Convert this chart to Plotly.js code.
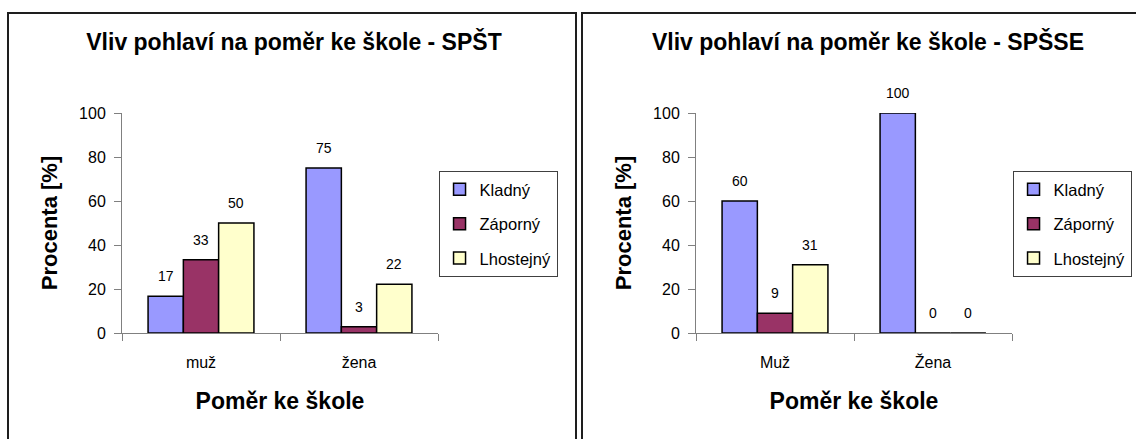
<!DOCTYPE html>
<html>
<head>
<meta charset="utf-8">
<script src="https://cdn.plot.ly/plotly-3.0.1.min.js"></script>
<style>
  html, body { margin: 0; padding: 0; width: 1136px; height: 439px; overflow: hidden; background: #fff; }
  .chart { position: absolute; top: 13px; width: 568px; height: 430px; }
  .frame { position: absolute; top: 12px; width: 570px; height: 450px; box-sizing: border-box; border: 2px solid #1e1e1e; pointer-events: none; }
</style>
</head>
<body>
<div id="c1" class="chart" style="left:8px"></div>
<div id="c2" class="chart" style="left:582px"></div>
<div class="frame" style="left:7px"></div>
<div class="frame" style="left:581px"></div>
<script>
// ---- data ----
const seriesNames = ['Kladný', 'Záporný', 'Lhostejný'];
const seriesColors = ['#9999FF', '#993366', '#FFFFCC'];

const titleSPST = 'Vliv pohlaví na poměr ke škole - SPŠT';
const categoriesSPST = ['muž', 'žena'];
const kladnySPST = [16.7, 75];
const zapornySPST = [33.3, 2.8];
const lhostejnySPST = [50, 22.2];

const titleSPSSE = 'Vliv pohlaví na poměr ke škole - SPŠSE';
const categoriesSPSSE = ['Muž', 'Žena'];
const kladnySPSSE = [60, 100];
const zapornySPSSE = [9, 0];
const lhostejnySPSSE = [31, 0];

const yTicks = [0, 20, 40, 60, 80, 100];
const xTitle = 'Poměr ke škole';
const yTitle = 'Procenta [%]';

// ---- drawing ----
const FONT = 'Liberation Sans, Arial, sans-serif';
const BARGAP = 0.33;

function draw(divId, title, cats, seriesVals) {
  const traces = seriesVals.map((vals, j) => ({
    type: 'bar',
    name: seriesNames[j],
    x: cats,
    y: vals,
    legendgroup: 'g' + j,
    marker: { color: seriesColors[j], line: { color: '#000', width: 1.5 } },
    hoverinfo: 'x+y+name'
  }));

  const nS = seriesVals.length;
  const w = (1 - BARGAP) / nS;
  const annotations = [];
  seriesVals.forEach((vals, j) => {
    vals.forEach((v, i) => {
      annotations.push({
        x: i + (j - (nS - 1) / 2) * w,
        y: v,
        xref: 'x', yref: 'y',
        text: String(Math.round(v)),
        showarrow: false,
        xanchor: 'center', yanchor: 'middle',
        yshift: 20,
        font: { family: FONT, size: 14, color: '#000' }
      });
    });
  });

  const layout = {
    width: 568, height: 430,
    margin: { l: 114, r: 138, t: 100, b: 110, autoexpand: false },
    paper_bgcolor: '#fff', plot_bgcolor: '#fff',
    font: { family: FONT, color: '#000' },
    title: {
      text: '<b>' + title + '</b>',
      font: { family: FONT, size: 23, color: '#000' },
      xref: 'container', x: 0.5035, xanchor: 'center',
      yref: 'container', y: 0.9326, yanchor: 'middle'
    },
    barmode: 'group', bargap: BARGAP, bargroupgap: 0,
    xaxis: {
      type: 'category',
      showline: true, linecolor: '#808080', linewidth: 1,
      ticks: 'outside', tickson: 'boundaries', ticklen: 7, tickcolor: '#808080',
      tickfont: { family: FONT, size: 16, color: '#000' },
      ticklabelstandoff: 15,
      showgrid: false, zeroline: false,
      title: { text: '<b>' + xTitle + '</b>', font: { family: FONT, size: 23, color: '#000' }, standoff: 22 },
      automargin: false
    },
    yaxis: {
      range: [0, 100], tickvals: yTicks,
      showline: true, linecolor: '#808080', linewidth: 1,
      ticks: 'outside', ticklen: 7, tickcolor: '#808080',
      tickfont: { family: FONT, size: 16, color: '#000' },
      ticklabelstandoff: 5,
      showgrid: false, zeroline: false,
      title: { text: '<b>' + yTitle + '</b>', font: { family: FONT, size: 22, color: '#000' }, standoff: 15 },
      automargin: false
    },
    showlegend: true,
    legend: {
      x: 0.758, xanchor: 'left', xref: 'container',
      y: 0.6326, yanchor: 'top', yref: 'container',
      bordercolor: '#404040', borderwidth: 1, bgcolor: '#fff',
      font: { family: FONT, size: 16.5, color: '#000' },
      traceorder: 'grouped', tracegroupgap: 10,
      itemclick: false, itemdoubleclick: false
    },
    annotations: annotations
  };

  Plotly.newPlot(divId, traces, layout, { displayModeBar: false, staticPlot: true });
}

draw('c1', titleSPST, categoriesSPST, [kladnySPST, zapornySPST, lhostejnySPST]);
draw('c2', titleSPSSE, categoriesSPSSE, [kladnySPSSE, zapornySPSSE, lhostejnySPSSE]);
</script>
</body>
</html>
